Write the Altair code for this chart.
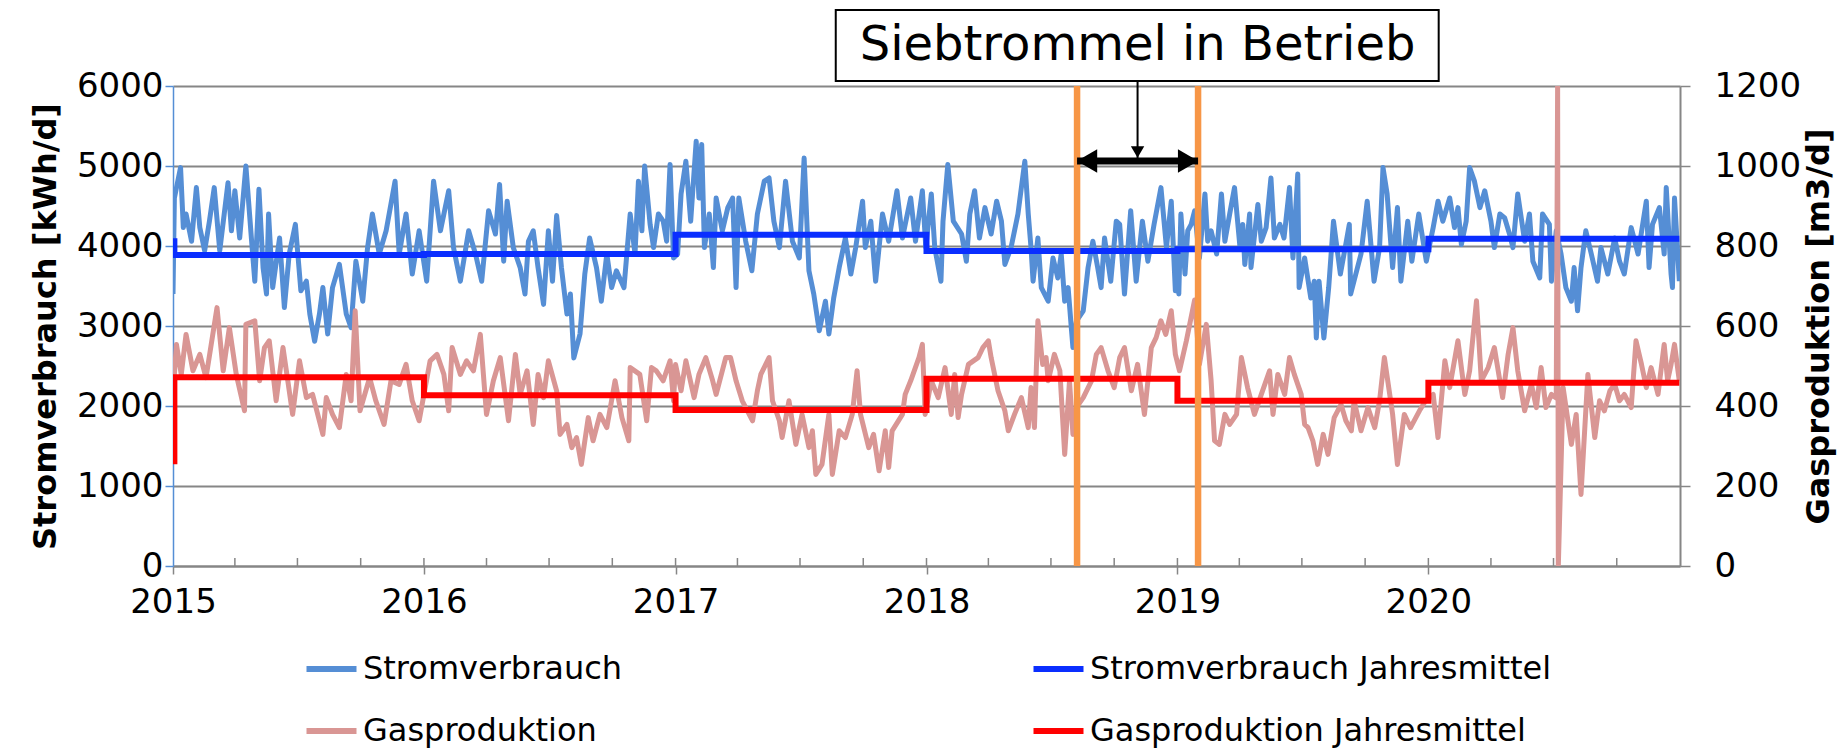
import altair as alt
import pandas as pd

FONT = "DejaVu Sans"
BLUE_D = "#558ED5"
BLUE_M = "#0A2EFF"
PINK = "#D99694"
RED = "#FF0000"
ORANGE = "#F79646"
GRAY = "#868686"

# ---------------- data (day of year, value) ----------------
strom_2015 = [(0,3400),(2,4600),(11,4980),(15,4230),(19,4400),(27,4060),(34,4730),(39,4230),(46,3940),(53,4310),(60,4730),(68,3940),(80,4790),(85,4190),(90,4690),(97,4100),(106,5000),(114,4100),(119,3560),(125,4710),(131,3730),(136,3400),(139,4400),(145,3480),(155,4100),(162,3230),(169,3900),(178,4270),(186,3440),(194,3560),(199,3150),(206,2810),(213,3150),(218,3480),(225,2900),(232,3480),(242,3770),(252,3150),(259,2980),(266,3810),(276,3310),(283,3980),(290,4400),(300,3900),(310,4190),(323,4810),(329,3900),(339,4400),(348,3650),(358,4190)]
strom_2016 = [(4,3560),(14,4810),(24,4190),(36,4690),(43,3980),(53,3560),(65,4190),(75,3900),(84,3560),(94,4440),(104,4150),(110,4770),(116,3810),(121,4560),(130,3980),(140,3730),(147,3400),(152,4060),(159,4190),(166,3730),(174,3270),(181,4190),(187,3560),(193,4380),(200,3730),(208,3150),(213,3400),(218,2600),(227,2900),(234,3650),(241,4100),(251,3730),(258,3310),(266,3900),(273,3480),(280,3690),(291,3480),(300,4400),(307,3900),(312,4810),(317,4190),(321,5000),(329,4270),(334,3980),(341,4400),(348,4310),(353,4060),(358,5020),(363,3850)]
strom_2017 = [(3,3900),(8,4650),(15,5060),(22,4310),(30,5310),(34,4600),(38,5270),(42,3980),(49,4400),(55,3730),(59,4600),(68,4190),(76,4480),(83,4600),(88,3480),(92,4600),(102,4060),(111,3690),(119,4400),(129,4810),(136,4850),(143,4310),(151,3980),(160,4810),(170,4060),(180,3850),(187,5100),(194,3690),(201,3400),(209,2940),(218,3310),(223,2900),(230,3350),(238,3730),(247,4100),(255,3650),(262,3980),(272,4560),(276,3980),(284,4310),(291,3560),(301,4400),(310,4060),(322,4690),(330,4100),(334,4270),(342,4600),(349,4060),(359,4690),(364,3980)]
strom_2018 = [(7,4650),(12,3980),(21,3560),(24,4310),(31,5020),(39,4310),(51,4150),(58,3810),(63,4400),(70,4690),(77,4100),(85,4480),(94,4150),(102,4560),(109,4310),(114,3770),(123,3980),(133,4400),(143,5060),(148,4400),(152,3980),(155,3560),(162,4100),(167,3480),(177,3310),(184,3850),(191,3600),(196,3900),(201,3310),(206,3480),(211,2940),(213,2730),(218,3060),(228,3190),(235,3730),(242,4060),(249,3730),(254,3480),(259,4100),(268,3560),(276,4310),(281,4270),(288,3400),(297,4440),(305,3560),(314,4310),(322,3810),(331,4270),(341,4730),(349,3980),(356,4560),(362,3440)]
strom_2019 = [(1,3900),(2,3400),(5,4400),(11,3650),(15,4190),(20,4270),(25,4440),(32,3850),(40,4650),(44,4060),(49,4190),(57,3900),(64,4650),(69,4060),(76,4400),(83,4730),(91,3980),(95,4270),(98,3770),(105,4400),(107,3730),(117,4520),(122,4060),(129,4230),(136,4850),(141,4100),(149,4270),(155,4100),(163,4730),(168,3850),(175,4900),(177,3480),(185,3850),(194,3350),(199,3560),(202,2850),(206,3560),(213,2850),(220,3480),(227,4310),(237,3650),(244,3980),(250,4270),(252,3400),(267,3900),(276,4560),(286,3560),(294,3980),(299,4980),(305,4650),(313,3730),(320,4480),(325,3560),(335,4310),(341,3810),(351,4400),(362,3810)]
strom_2020 = [(7,4230),(14,4560),(21,4310),(31,4600),(38,4230),(43,4480),(48,4020),(55,4310),(60,4980),(67,4810),(75,4480),(82,4690),(91,4310),(96,3980),(104,4400),(111,4350),(118,4150),(123,3980),(130,4650),(140,4060),(147,4400),(152,3810),(162,3600),(166,4400),(176,4270),(179,3560),(186,4190),(193,3900),(200,3480),(208,3310),(212,3730),(217,3190),(222,3730),(229,4190),(237,3900),(246,3560),(251,3980),(261,3650),(271,4100),(278,3810),(285,3650),(295,4230),(305,3900),(317,4560),(321,3730),(326,4270),(336,4480),(343,3900),(346,4730),(353,3650),(355,3480),(358,4600),(365,3560)]

gas_2015 = [(0,429),(5,554),(12,479),(19,579),(29,488),(39,529),(48,471),(64,646),(73,488),(82,596),(92,479),(104,388),(106,604),(119,613),(126,463),(133,546),(140,563),(150,413),(160,546),(167,463),(174,379),(184,513),(194,421),(203,429),(218,329),(223,421),(232,379),(242,346),(252,479),(259,413),(265,638),(272,388),(286,471),(295,413),(307,354),(317,463),(329,454),(339,504),(348,413),(358,363)]
gas_2016 = [(9,513),(19,529),(29,479),(36,388),(41,546),(53,479),(62,513),(72,488),(82,579),(91,379),(101,463),(111,521),(123,363),(133,529),(140,429),(150,488),(159,354),(166,479),(174,421),(181,513),(193,438),(198,329),(208,354),(215,296),(222,321),(229,254),(239,371),(246,313),(256,379),(266,346),(278,463),(288,371),(298,313),(300,496),(314,479),(324,363),(331,496),(338,488),(348,463),(358,513),(363,413)]
gas_2017 = [(0,504),(8,438),(15,513),(27,421),(34,479),(44,521),(54,463),(59,429),(73,521),(80,521),(88,463),(97,413),(112,363),(119,438),(124,479),(136,521),(141,413),(151,363),(155,321),(165,413),(175,304),(184,379),(194,296),(199,338),(204,229),(213,254),(223,379),(228,229),(238,338),(247,321),(257,379),(264,488),(269,379),(281,296),(288,329),(296,238),(305,338),(310,246),(315,338),(330,379),(334,429),(342,463),(354,521),(359,554),(363,379)]
gas_2018 = [(7,463),(17,421),(27,496),(36,379),(41,479),(46,371),(51,429),(61,504),(75,521),(82,546),(90,563),(94,521),(104,438),(114,388),(119,338),(128,379),(138,421),(148,346),(152,446),(157,346),(162,613),(169,504),(174,521),(177,463),(186,529),(194,488),(201,279),(208,463),(213,329),(218,396),(228,421),(240,463),(247,529),(254,546),(264,488),(273,446),(281,521),(288,546),(298,438),(307,504),(317,379),(327,546),(334,571),(341,613),(348,579),(356,638),(362,529)]
gas_2019 = [(3,488),(13,563),(25,665),(32,504),(42,604),(49,463),(54,313),(61,304),(69,379),(76,354),(86,379),(93,521),(102,446),(112,379),(122,429),(134,488),(139,379),(146,479),(156,429),(163,521),(170,479),(180,429),(185,354),(190,346),(197,313),(204,254),(212,329),(219,279),(228,371),(238,404),(245,363),(253,338),(257,413),(267,338),(277,396),(287,346),(294,413),(301,521),(313,379),(320,254),(330,379),(339,346),(352,388),(361,413)]
gas_2020 = [(7,429),(14,321),(24,513),(31,446),(43,563),(53,429),(60,488),(70,663),(77,463),(87,496),(96,546),(108,421),(116,529),(123,596),(130,488),(140,388),(150,454),(157,396),(164,496),(171,396),(179,429),(186,420),(188,1200),(189,0),(196,446),(208,304),(215,379),(222,179),(232,479),(242,321),(249,413),(256,388),(264,438),(271,454),(278,413),(285,429),(295,396),(302,563),(310,504),(317,446),(324,496),(334,429),(343,554),(348,463),(353,504),(358,554),(365,463)]

years = [2015, 2016, 2017, 2018, 2019, 2020]
strom_jm = [3887, 3900, 4140, 3937, 3958, 4092]   # Jahresmittel
strom_jm_first = 4060
gas_jm = [472, 427, 390, 468, 413, 458]
gas_jm_first = 262

# legend fills column by column: col 1 = daily series, col 2 = yearly means
series_names = ["Stromverbrauch", "Gasproduktion", "Stromverbrauch Jahresmittel", "Gasproduktion Jahresmittel"]
series_colors = [BLUE_D, PINK, BLUE_M, RED]

# annotation data
siebtrommel_dates = ["2018-08-08", "2019-01-31"]
siebtrommel_mid = "2018-11-04"
arrow_level = 5062
box_dates = ["2017-08-22", "2020-01-16"]
box_levels = [6062, 6950]
box_text = "Siebtrommel in Betrieb"
text_level = 6506
quarter_months = [1, 4, 7, 10]

# ---------------- build tables ----------------
def daily(per_year, name):
    rows = []
    for y, pts in zip(years, per_year):
        base = pd.Timestamp(f"{y}-01-01")
        for d, v in pts:
            rows.append({"date": base + pd.Timedelta(days=d), "v": v, "series": name})
    return pd.DataFrame(rows)

def yearly(means, first, name):
    rows = [{"date": pd.Timestamp("2015-01-01"), "v": first, "series": name}]
    for y, m in zip(years, means):
        d = pd.Timestamp(f"{y}-01-01") + (pd.Timedelta(days=2) if y == 2015 else pd.Timedelta(0))
        rows.append({"date": d, "v": m, "series": name})
    rows.append({"date": pd.Timestamp("2020-12-31"), "v": means[-1], "series": name})
    return pd.DataFrame(rows)

df_strom = daily([strom_2015, strom_2016, strom_2017, strom_2018, strom_2019, strom_2020], "Stromverbrauch")
df_strom_jm = yearly(strom_jm, strom_jm_first, "Stromverbrauch Jahresmittel")
df_gas = daily([gas_2015, gas_2016, gas_2017, gas_2018, gas_2019, gas_2020], "Gasproduktion")
df_gas_jm = yearly(gas_jm, gas_jm_first, "Gasproduktion Jahresmittel")

df_orange = pd.DataFrame({"date": pd.to_datetime(siebtrommel_dates), "v": 0, "v2": 6000})
df_arrow = pd.DataFrame({"date": [pd.Timestamp(siebtrommel_dates[0])], "date2": [pd.Timestamp(siebtrommel_dates[1])], "v": [arrow_level]})
df_head_l = pd.DataFrame({"date": [pd.Timestamp(siebtrommel_dates[0])], "v": [arrow_level]})
df_head_r = pd.DataFrame({"date": [pd.Timestamp(siebtrommel_dates[1])], "v": [arrow_level]})
df_head_d = pd.DataFrame({"date": [pd.Timestamp(siebtrommel_mid)], "v": [arrow_level]})
df_vline = pd.DataFrame({"date": [pd.Timestamp(siebtrommel_mid)], "v": [arrow_level], "v2": [box_levels[0]]})
df_box = pd.DataFrame({"date": [pd.Timestamp(box_dates[0])], "date2": [pd.Timestamp(box_dates[1])], "v": [box_levels[0]], "v2": [box_levels[1]]})
df_text = pd.DataFrame({"date": [pd.Timestamp(siebtrommel_mid)], "v": [text_level], "t": [box_text]})
df_minor = pd.DataFrame({"date": [pd.Timestamp(year=y, month=m, day=1) for y in years for m in quarter_months][1:], "v": 0, "v2": 100})

# ---------------- encodings ----------------
x_scale = alt.Scale(domain=[alt.DateTime(year=2015, month=1, date=1), alt.DateTime(year=2021, month=1, date=1)])
x_axis = alt.Axis(values=[alt.DateTime(year=y, month=1, date=1) for y in years], format="%Y",
                  labelFont=FONT, labelFontSize=34, labelColor="black", labelFlush=False,
                  labelPadding=11, tickSize=8, tickColor=GRAY, tickWidth=1.5,
                  domainColor=GRAY, domainWidth=2, grid=False, title=None)
X = alt.X("date:T", scale=x_scale, axis=x_axis)

y_left = alt.Y("v:Q", scale=alt.Scale(domain=[0, 6000], nice=False),
               axis=alt.Axis(values=list(range(0, 6001, 1000)), format="d", orient="left",
                             title="Stromverbrauch [kWh/d]", titleFont=FONT, titleFontSize=32,
                             titleFontWeight="bold", titleColor="black", titlePadding=14,
                             labelFont=FONT, labelFontSize=34, labelColor="black", labelPadding=2,
                             tickSize=8, tickColor=BLUE_D, tickWidth=1.5,
                             domainColor=BLUE_D, domainWidth=1.5,
                             grid=True, gridColor=GRAY, gridWidth=2))
y_right = alt.Y("v:Q", scale=alt.Scale(domain=[0, 1200], nice=False),
                axis=alt.Axis(values=list(range(0, 1201, 200)), format="d", orient="right",
                              title="Gasproduktion [m3/d]", titleFont=FONT, titleFontSize=32,
                              titleFontWeight="bold", titleColor="black", titlePadding=3,
                              titleAngle=270, titleBaseline="top",
                              labelFont=FONT, labelFontSize=34, labelColor="black", labelPadding=24,
                              tickSize=10, tickColor=GRAY, tickWidth=1.5,
                              domainColor=GRAY, domainWidth=2, grid=False))
y_annot = alt.Y("v:Q", scale=alt.Scale(domain=[0, 6000], nice=False), axis=None)

legend = alt.Legend(orient="none", legendX=142.5, legendY=567, columns=2, columnPadding=399,
                    rowPadding=30, symbolType="M-2,0H2", symbolSize=625, symbolStrokeWidth=6,
                    labelFont=FONT, labelFontSize=32, labelColor="black", labelOffset=15.5,
                    labelLimit=1000, title=None)
C = alt.Color("series:N", scale=alt.Scale(domain=series_names, range=series_colors), legend=legend)

# ---------------- layers ----------------
strom_line = alt.Chart(df_strom).mark_line(strokeWidth=5, strokeJoin="round", clip=True).encode(x=X, y=y_left, color=C)
strom_jm_line = alt.Chart(df_strom_jm).mark_line(strokeWidth=6, interpolate="step-after", clip=True).encode(x=X, y=y_left, color=C)
gas_line = alt.Chart(df_gas).mark_line(strokeWidth=5, strokeJoin="round", clip=True).encode(x=X, y=y_right, color=C)
gas_jm_line = alt.Chart(df_gas_jm).mark_line(strokeWidth=6, interpolate="step-after", clip=True).encode(x=X, y=y_right, color=C)

minor = alt.Chart(df_minor).mark_rule(color=GRAY, strokeWidth=1.5).encode(x=X, y=y_annot, y2="v2:Q")
orange = alt.Chart(df_orange).mark_rule(color=ORANGE, strokeWidth=6.5).encode(x=X, y=y_annot, y2="v2:Q")
shaft = alt.Chart(df_arrow).mark_rule(color="black", strokeWidth=7).encode(x=X, x2="date2:T", y=y_annot)
head_l = alt.Chart(df_head_l).mark_point(shape="triangle-left", filled=True, size=550, color="black", opacity=1, xOffset=10).encode(x=X, y=y_annot)
head_r = alt.Chart(df_head_r).mark_point(shape="triangle-right", filled=True, size=550, color="black", opacity=1, xOffset=-10).encode(x=X, y=y_annot)
vline = alt.Chart(df_vline).mark_rule(color="black", strokeWidth=2).encode(x=X, y=y_annot, y2="v2:Q")
head_d = alt.Chart(df_head_d).mark_point(shape="triangle-down", filled=True, size=180, color="black", opacity=1, yOffset=-9).encode(x=X, y=y_annot)
box = alt.Chart(df_box).mark_rect(fill="white", stroke="black", strokeWidth=2, clip=False).encode(x=X, x2="date2:T", y=y_annot, y2="v2:Q")
text = alt.Chart(df_text).mark_text(font=FONT, fontSize=48, color="black", baseline="middle", align="center", clip=False).encode(x=X, y=y_annot, text="t:N")

left = alt.layer(strom_line, strom_jm_line)
right = alt.layer(gas_line, gas_jm_line)
annot = alt.layer(minor, orange, shaft, head_l, head_r, vline, head_d, box, text)

chart = alt.layer(left, right, annot).resolve_scale(y="independent").properties(
    width=1507, height=480,
    padding={"left": 21, "top": 0, "right": 2, "bottom": 2},
).configure_view(stroke=None)

chart.save("out.html", embed_options={"renderer": "svg", "actions": False})
